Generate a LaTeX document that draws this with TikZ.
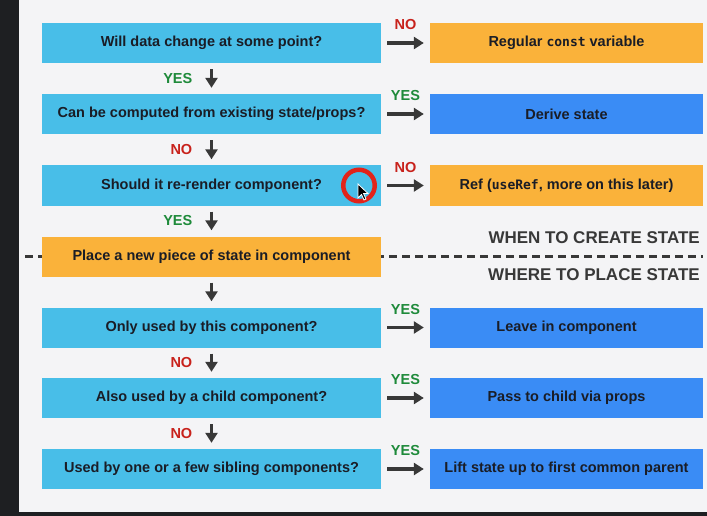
\documentclass[tikz,border=0pt]{standalone}
\usepackage{fontspec}
\setmainfont{Liberation Sans}
\newfontfamily\codefont{DejaVu Sans Mono}
\usetikzlibrary{arrows.meta}
\definecolor{qcyan}{HTML}{48BEE8}
\definecolor{ablue}{HTML}{3A8CF5}
\definecolor{sorange}{HTML}{FAB23A}
\definecolor{panel}{HTML}{F4F4F6}
\definecolor{editor}{HTML}{1E1F22}
\definecolor{ink}{HTML}{1A1D26}
\definecolor{arrowgrey}{HTML}{383838}
\definecolor{yesgreen}{HTML}{1E8A3A}
\definecolor{nored}{HTML}{C8221C}
\definecolor{pointred}{HTML}{E2231A}
\newcommand\code[1]{{\codefont\fontsize{13}{15}\selectfont #1}}

\begin{document}
\begin{tikzpicture}[x=1pt,y=-1pt,
    box/.style={inner sep=0pt, text=ink, font=\bfseries\fontsize{14.5}{17}\selectfont, minimum height=40pt},
    ask/.style={box, fill=qcyan, minimum width=339pt},
    answer/.style={box, fill=ablue, minimum width=273pt},
    plain/.style={box, fill=sorange, minimum width=273pt},
    flow/.style={draw=arrowgrey, line width=3.8pt, shorten >=6pt, shorten <=6pt, -{Triangle[length=10pt,width=12pt]}},
    yes/.style={text=yesgreen, font=\bfseries\fontsize{14.5}{17}\selectfont},
    no/.style={text=nored, font=\bfseries\fontsize{14.5}{17}\selectfont},
    heading/.style={anchor=east, inner sep=0pt, text=arrowgrey, font=\bfseries\fontsize{17}{20}\selectfont}]

  % screen and panel
  \fill [editor] (0,0) rectangle (707,516);
  \fill [panel] (19,0) rectangle (707,512);

  % separator between the two parts
  \coordinate (sepL) at (25,256.5);
  \coordinate (sepR) at (703,256.5);
  \draw [arrowgrey, line width=3pt, dash pattern=on 8pt off 5pt] (sepL) -- (sepR);

  % questions
  \node [ask] (q1) at (211.5,43) {Will data change at some point?};
  \node [ask] (q2) at (211.5,114) {Can be computed from existing state/props?};
  \node [ask] (q3) at (211.5,185.5) {Should it re-render component?};
  \node [ask, fill=sorange] (place) at (211.5,256.5) {Place a new piece of state in component};
  \node [ask] (q5) at (211.5,327.5) {Only used by this component?};
  \node [ask] (q6) at (211.5,398) {Also used by a child component?};
  \node [ask] (q7) at (211.5,469) {Used by one or a few sibling components?};

  % answers
  \node [plain] (r1) at (566.5,43) {Regular \code{const} variable};
  \node [answer] (r2) at (566.5,114) {Derive state};
  \node [plain] (r3) at (566.5,185.5) {Ref (\code{useRef}, more on this later)};
  \node [answer] (r5) at (566.5,327.5) {Leave in component};
  \node [answer] (r6) at (566.5,398) {Pass to child via props};
  \node [answer] (r7) at (566.5,469) {Lift state up to first common parent};

  \node [heading] (when) at (700,238) {WHEN TO CREATE STATE};
  \node [heading] (where) at (700,275) {WHERE TO PLACE STATE};

  % down the questions
  \draw [flow] (q1) -- node [yes, left=14pt] {YES} (q2);
  \draw [flow] (q2) -- node [no, left=14pt] {NO} (q3);
  \draw [flow] (q3) -- node [yes, left=14pt] {YES} (place);
  \draw [flow] (place) -- (q5);
  \draw [flow] (q5) -- node [no, left=14pt] {NO} (q6);
  \draw [flow] (q6) -- node [no, left=14pt] {NO} (q7);

  % across to the answers
  \draw [flow] (q1) -- node [no, above=8pt] {NO} (r1);
  \draw [flow] (q2) -- node [yes, above=8pt] {YES} (r2);
  \draw [flow] (q3) -- node [no, above=8pt] {NO} (r3);
  \draw [flow] (q5) -- node [yes, above=8pt] {YES} (r5);
  \draw [flow] (q6) -- node [yes, above=8pt] {YES} (r6);
  \draw [flow] (q7) -- node [yes, above=8pt] {YES} (r7);

  % pointer highlight
  \node [draw=pointred, line width=4.5pt, circle, minimum size=31.5pt, inner sep=0pt] (pointer) at (359,185.5) {};
  \fill [black, draw=white, line width=0.8pt] (358,184) -- (358,198) -- (361.5,194.5) -- (364,200) -- (366,199) -- (363.5,193.5) -- (368,193.5) -- cycle;
\end{tikzpicture}
\end{document}
